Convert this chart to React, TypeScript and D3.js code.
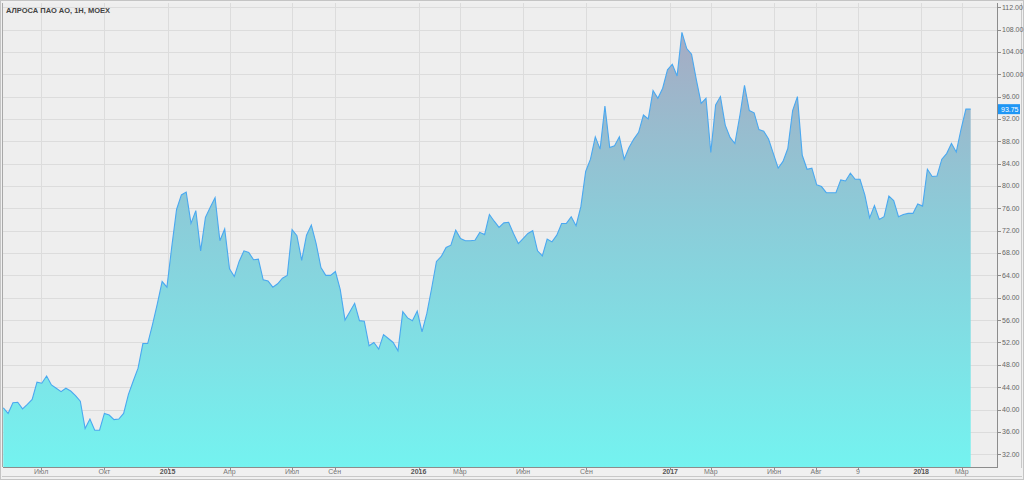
import React from "react";
import * as d3 from "d3";

const TITLE = "АЛРОСА ПАО АО, 1Н, MOEX";
const START_DATE = "2014-05-07";
const LAST_PRICE = 93.75;

// weekly closes
const values: number[] = [
  40.3, 39.3, 41.2, 41.3, 40.1, 40.9, 41.8, 44.9, 44.7, 46.0,
  44.4, 43.8, 43.2, 43.8, 43.3, 42.5, 41.5, 36.6, 38.3, 36.3,
  36.3, 39.3, 39.0, 38.2, 38.3, 39.3, 42.7, 45.1, 47.4, 51.8,
  51.8, 55.2, 58.9, 62.9, 61.9, 69.1, 75.8, 78.4, 78.9, 73.3,
  75.6, 68.4, 74.4, 76.2, 77.9, 70.2, 72.3, 65.2, 63.8, 66.5,
  68.4, 68.1, 66.8, 66.9, 63.2, 63.0, 61.9, 62.5, 63.5, 64.0,
  72.2, 71.1, 66.7, 71.2, 73.0, 69.7, 65.4, 64.0, 64.0,
  64.7, 61.5, 56.0, 57.5, 59.0, 55.9, 55.8, 51.4, 52.0, 50.8,
  53.4, 52.7, 52.0, 50.5, 57.5, 56.4, 55.9, 57.6, 53.9, 57.2,
  61.7, 66.5, 67.4, 69.0, 69.4, 72.1, 70.6, 70.2, 70.2, 70.3,
  71.7, 71.3, 74.9, 73.7, 72.6, 73.4, 73.5, 71.5, 69.7, 70.6,
  71.5, 72.0, 68.4, 67.5, 70.5, 70.0, 71.2, 73.3, 73.3, 74.5,
  72.9, 76.3, 82.6, 84.8, 88.8, 86.6, 94.3, 86.9, 87.2, 88.8,
  84.8, 86.9, 88.4, 89.6, 92.7, 92.0, 97.1, 95.7,
  97.5, 100.8, 101.8, 99.7, 107.5, 104.6, 103.6, 99.0, 94.8, 95.7,
  86.0, 94.5, 96.0, 90.9, 88.7, 87.6, 92.4, 98.0, 93.5, 93.1,
  90.1, 89.8, 88.4, 85.8, 83.2, 84.4, 86.7, 93.5, 96.0, 85.5,
  83.0, 83.2, 80.2, 79.9, 78.8, 78.8, 78.8, 81.1, 80.9, 82.3,
  81.2, 81.2, 78.4, 74.3, 76.5, 74.0, 74.5, 78.2, 77.4, 74.5,
  74.9, 75.1, 75.1, 76.8, 76.4, 83.0, 81.7, 81.8, 84.8, 85.8,
  87.6, 86.1, 90.2, 93.75, 93.75,
];

const tickDates = [
  "2014-07-01", "2014-10-01", "2015-01-01", "2015-04-01", "2015-07-01",
  "2015-09-01", "2016-01-01", "2016-03-01", "2016-06-01", "2016-09-01",
  "2017-01-01", "2017-03-01", "2017-06-01", "2017-08-01", "2017-10-01",
  "2018-01-01", "2018-03-01",
];
const tickLabels = [
  "Июл", "Окт", "2015", "Апр", "Июл", "Сен", "2016", "Мар", "Июн", "Сен",
  "2017", "Мар", "Июн", "Авг", "9", "2018", "Мар",
];
const yTicks = [32, 36, 40, 44, 48, 52, 56, 60, 64, 68, 72, 76, 80, 84, 88, 92, 96, 100, 104, 108, 112];

const W = 1024;
const H = 480;
const L = 3;
const R = 997;
const T = 3;
const B = 467;

export default function App() {
  const start = new Date(START_DATE + "T00:00:00Z");
  const dates = values.map((_, i) => new Date(start.getTime() + i * 7 * 86400000));
  const data = values.map((v, i) => ({ d: dates[i], v }));

  const x = d3
    .scaleUtc()
    .domain([dates[0], dates[dates.length - 1]])
    .range([3.3, 970.7]);
  const y = d3.scaleLinear().domain([29.71, 112.75]).range([B, T]);

  const area = d3
    .area<{ d: Date; v: number }>()
    .x((p) => x(p.d))
    .y0(B)
    .y1((p) => y(p.v));
  const line = d3
    .line<{ d: Date; v: number }>()
    .x((p) => x(p.d))
    .y((p) => y(p.v));

  const font = "'Liberation Sans', Arial, sans-serif";
  const ly = y(LAST_PRICE);

  return (
    <div style={{ position: "absolute", left: 0, top: 0 }}>
      <svg width={W} height={H} style={{ display: "block" }}>
        <defs>
          <linearGradient id="fillG" gradientUnits="userSpaceOnUse" x1="0" y1={T} x2="0" y2={B}>
            <stop offset="0" stopColor="#aaa6c0" />
            <stop offset="0.45" stopColor="#8ccbd8" />
            <stop offset="1" stopColor="#74f3f0" />
          </linearGradient>
          <clipPath id="plotClip">
            <rect x={L} y={T} width={R - L} height={B - T} />
          </clipPath>
        </defs>
        <rect x={0} y={0} width={W} height={H} fill="#f0f0f0" />
        <rect x={0.5} y={0.5} width={W - 1} height={H - 1} fill="none" stroke="#c4c4c4" />
        <rect x={L} y={T} width={R - L} height={B - T} fill="#eeeeee" />
        <g stroke="#dcdcdc" strokeWidth={1}>
          {yTicks.map((t) => (
            <line key={"h" + t} x1={L} x2={R} y1={Math.round(y(t)) + 0.5} y2={Math.round(y(t)) + 0.5} />
          ))}
          {tickDates.map((td, i) => {
            const xx = Math.round(x(new Date(td + "T00:00:00Z"))) + 0.5;
            return <line key={"v" + i} x1={xx} x2={xx} y1={T} y2={B} />;
          })}
        </g>
        <g clipPath="url(#plotClip)">
          <path d={area(data) || ""} fill="url(#fillG)" />
          <path d={line(data) || ""} fill="none" stroke="#4aa8f0" strokeWidth={1.1} />
        </g>
        <line x1={2.5} x2={2.5} y1={T} y2={B} stroke="#a8a8a8" />
        <line x1={R + 0.5} x2={R + 0.5} y1={T} y2={B + 1} stroke="#8c8c8c" />
        <line x1={L} x2={R + 1} y1={B + 0.5} y2={B + 0.5} stroke="#8c8c8c" />
        <line x1={1021.5} x2={1021.5} y1={T} y2={B + 1} stroke="#c8c8c8" />
        <line x1={2} x2={1022} y1={476.5} y2={476.5} stroke="#c8c8c8" />
        <g fontFamily={font} fontSize={7} fill="#666">
          {yTicks.map((t) => (
            <g key={"yt" + t}>
              <line x1={R + 1} x2={R + 4} y1={Math.round(y(t)) + 0.5} y2={Math.round(y(t)) + 0.5} stroke="#8c8c8c" />
              <text x={1002} y={y(t)} dy="0.35em">
                {t.toFixed(2)}
              </text>
            </g>
          ))}
          {tickDates.map((td, i) => {
            const xx = x(new Date(td + "T00:00:00Z"));
            const bold = /^\d{4}$/.test(tickLabels[i]);
            return (
              <g key={"xt" + i}>
                <line x1={Math.round(xx) + 0.5} x2={Math.round(xx) + 0.5} y1={B} y2={B + 3} stroke="#8c8c8c" />
                <text x={xx} y={474} textAnchor="middle" fontWeight={bold ? "bold" : "normal"} fill={bold ? "#555" : "#777"}>
                  {tickLabels[i]}
                </text>
              </g>
            );
          })}
        </g>
        <rect x={R + 1} y={ly - 5} width={22} height={10} fill="#1e96f5" />
        <text x={1001} y={ly} dy="0.35em" fontFamily={font} fontSize={7} fill="#ffffff">
          {LAST_PRICE.toFixed(2)}
        </text>
        <text x={6} y={13} fontFamily={font} fontSize={7.5} fill="#444" fontWeight="bold">
          {TITLE}
        </text>
      </svg>
    </div>
  );
}
